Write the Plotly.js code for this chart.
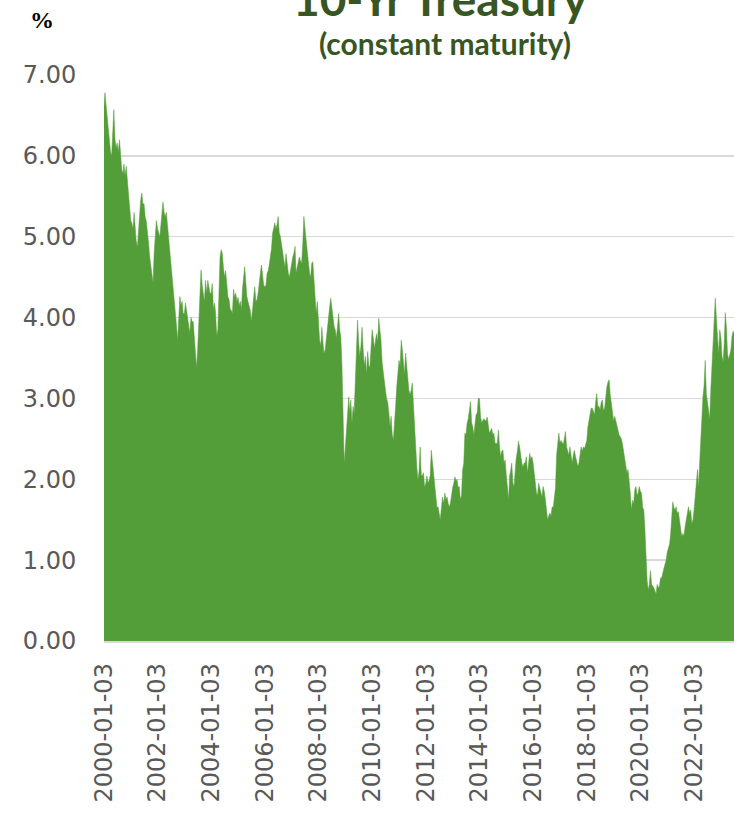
<!DOCTYPE html>
<html>
<head>
<meta charset="utf-8">
<script src="https://cdn.plot.ly/plotly-3.0.1.min.js"></script>
<style>
  html, body { margin: 0; padding: 0; background: #ffffff; }
  #chart { width: 734px; height: 813px; }
</style>
</head>
<body>
<div id="chart"></div>
<script>
// 10-Yr Treasury constant maturity yield (%), two readings per month (1st and 16th)
const y2000 = [6.58, 6.78, 6.62, 6.45, 6.30, 6.20, 6.05, 6.00, 6.35, 6.57, 6.20, 6.10, 6.16, 6.05, 6.20, 5.95, 5.83, 5.78, 5.90, 5.75, 5.87, 5.70, 5.55, 5.30];
const y2001 = [5.20, 5.17, 5.10, 5.30, 5.05, 4.95, 4.87, 5.05, 5.33, 5.45, 5.54, 5.40, 5.41, 5.25, 5.19, 5.00, 4.92, 4.75, 4.63, 4.50, 4.43, 4.80, 5.08, 5.20];
const y2002 = [5.10, 5.05, 5.00, 5.15, 5.30, 5.43, 5.30, 5.25, 5.30, 5.15, 5.04, 4.90, 4.75, 4.62, 4.45, 4.30, 4.05, 3.90, 3.72, 4.10, 4.26, 4.15, 4.20, 4.05];
const y2003 = [4.05, 4.18, 4.08, 4.00, 3.90, 3.81, 4.00, 3.95, 3.95, 3.76, 3.55, 3.38, 3.60, 3.93, 4.35, 4.59, 4.40, 4.26, 4.20, 4.46, 4.30, 4.46, 4.34, 4.30];
const y2004 = [4.30, 4.42, 4.10, 4.18, 4.06, 3.78, 3.85, 4.50, 4.75, 4.84, 4.79, 4.62, 4.50, 4.58, 4.40, 4.26, 4.22, 4.10, 4.09, 4.05, 4.35, 4.25, 4.30, 4.20];
const y2005 = [4.25, 4.15, 4.20, 4.10, 4.34, 4.50, 4.63, 4.45, 4.26, 4.20, 4.15, 4.09, 3.95, 4.10, 4.26, 4.38, 4.20, 4.22, 4.30, 4.46, 4.55, 4.65, 4.50, 4.40];
const y2006 = [4.38, 4.40, 4.55, 4.58, 4.65, 4.75, 4.85, 5.04, 5.10, 5.17, 5.10, 5.15, 5.25, 5.05, 5.00, 4.90, 4.80, 4.75, 4.62, 4.79, 4.65, 4.55, 4.50, 4.60];
const y2007 = [4.71, 4.75, 4.80, 4.88, 4.55, 4.62, 4.65, 4.75, 4.70, 4.67, 4.90, 5.25, 5.10, 4.96, 4.80, 4.62, 4.55, 4.50, 4.67, 4.69, 4.45, 4.13, 4.05, 4.20];
const y2008 = [3.95, 3.72, 3.65, 3.88, 3.70, 3.56, 3.60, 3.75, 3.88, 3.95, 4.13, 4.24, 4.13, 4.00, 3.89, 3.85, 3.75, 3.89, 4.05, 3.85, 3.75, 3.39, 2.70, 2.20];
const y2009 = [2.40, 2.65, 2.85, 3.02, 2.82, 2.98, 2.70, 2.90, 2.82, 3.19, 3.50, 3.97, 3.70, 3.52, 3.65, 3.88, 3.59, 3.40, 3.52, 3.30, 3.58, 3.40, 3.39, 3.60];
const y2010 = [3.85, 3.75, 3.62, 3.72, 3.80, 3.70, 3.99, 3.85, 3.72, 3.45, 3.35, 3.20, 3.10, 3.00, 2.95, 2.82, 2.65, 2.78, 2.55, 2.49, 2.78, 2.90, 3.14, 3.35];
const y2011 = [3.47, 3.40, 3.72, 3.60, 3.43, 3.30, 3.56, 3.40, 3.23, 3.10, 3.05, 3.10, 3.19, 2.95, 2.60, 2.30, 2.15, 1.99, 2.10, 2.40, 2.04, 2.05, 2.08, 1.90];
const y2012 = [1.95, 2.04, 1.95, 1.99, 2.05, 2.36, 2.20, 2.08, 1.90, 1.83, 1.65, 1.66, 1.55, 1.50, 1.65, 1.78, 1.70, 1.83, 1.75, 1.78, 1.70, 1.66, 1.70, 1.83];
const y2013 = [1.90, 1.95, 2.03, 1.98, 2.00, 1.90, 1.91, 1.75, 1.80, 2.11, 2.20, 2.57, 2.55, 2.69, 2.75, 2.85, 2.96, 2.70, 2.65, 2.55, 2.73, 2.80, 2.82, 3.00];
const y2014 = [3.00, 2.77, 2.70, 2.73, 2.75, 2.73, 2.72, 2.77, 2.62, 2.57, 2.60, 2.63, 2.55, 2.57, 2.45, 2.44, 2.45, 2.61, 2.40, 2.28, 2.35, 2.36, 2.20, 2.24];
const y2015 = [2.05, 1.87, 1.75, 2.05, 2.10, 2.20, 1.95, 1.91, 2.10, 2.26, 2.35, 2.47, 2.40, 2.28, 2.20, 2.15, 2.20, 2.20, 2.28, 2.08, 2.20, 2.32, 2.25, 2.28];
const y2016 = [2.20, 2.04, 1.95, 1.83, 1.80, 1.95, 1.90, 1.83, 1.78, 1.91, 1.85, 1.75, 1.60, 1.50, 1.55, 1.58, 1.55, 1.66, 1.65, 1.79, 1.90, 2.30, 2.45, 2.57];
const y2017 = [2.45, 2.48, 2.45, 2.44, 2.50, 2.59, 2.40, 2.36, 2.30, 2.40, 2.25, 2.20, 2.30, 2.36, 2.28, 2.20, 2.16, 2.20, 2.32, 2.40, 2.35, 2.40, 2.38, 2.44];
const y2018 = [2.48, 2.65, 2.75, 2.86, 2.88, 2.88, 2.82, 2.80, 2.95, 3.06, 2.90, 2.90, 2.86, 2.95, 2.98, 2.85, 2.88, 3.05, 3.14, 3.20, 3.23, 3.05, 2.94, 2.80];
const y2019 = [2.72, 2.78, 2.70, 2.65, 2.61, 2.55, 2.53, 2.50, 2.44, 2.35, 2.20, 2.16, 2.08, 2.12, 2.00, 1.83, 1.62, 1.74, 1.70, 1.87, 1.91, 1.80, 1.83, 1.91];
const y2020 = [1.85, 1.83, 1.65, 1.62, 1.40, 0.97, 0.75, 0.63, 0.70, 0.87, 0.70, 0.68, 0.66, 0.62, 0.58, 0.70, 0.66, 0.68, 0.78, 0.78, 0.87, 0.90, 0.95, 1.00];
const y2021 = [1.10, 1.17, 1.20, 1.33, 1.58, 1.72, 1.65, 1.62, 1.66, 1.58, 1.60, 1.50, 1.35, 1.29, 1.33, 1.30, 1.42, 1.50, 1.62, 1.66, 1.58, 1.62, 1.45, 1.50];
const y2022 = [1.63, 1.80, 1.99, 2.12, 1.90, 2.20, 2.49, 2.90, 3.02, 3.15, 3.47, 3.06, 2.95, 2.82, 2.75, 3.10, 3.45, 3.64, 4.02, 4.24, 3.98, 3.73, 3.55, 3.85];
const y2023 = [3.75, 3.52, 3.45, 3.70, 4.06, 3.89, 3.55, 3.48, 3.55, 3.60, 3.77, 3.83, 3.80];

const yearSeries = [y2000, y2001, y2002, y2003, y2004, y2005, y2006, y2007, y2008, y2009, y2010, y2011,
                    y2012, y2013, y2014, y2015, y2016, y2017, y2018, y2019, y2020, y2021, y2022, y2023];
const firstYear = 2000;

const tickLabels = ["2000-01-03", "2002-01-03", "2004-01-03", "2006-01-03", "2008-01-03", "2010-01-03",
                    "2012-01-03", "2014-01-03", "2016-01-03", "2018-01-03", "2020-01-03", "2022-01-03"];
const yTicks = [0, 1, 2, 3, 4, 5, 6, 7];

// build dates (1st and 16th of each month) for the readings
const dates = [], values = [];
yearSeries.forEach((arr, yi) => {
  const yr = firstYear + yi;
  arr.forEach((v, k) => {
    const m = Math.floor(k / 2) + 1;
    const d = (k % 2 === 0) ? "01" : "16";
    dates.push(yr + "-" + String(m).padStart(2, "0") + "-" + d);
    values.push(v);
  });
});

const trace = {
  type: "scatter",
  mode: "lines",
  x: dates,
  y: values,
  fill: "tozeroy",
  fillcolor: "#549e39",
  line: { color: "#549e39", width: 0.5 },
  hoverinfo: "skip"
};

const grey = "#595959";
const layout = {
  width: 734,
  height: 813,
  margin: { l: 104, r: 0, t: 75, b: 172 },
  paper_bgcolor: "#ffffff",
  plot_bgcolor: "#ffffff",
  showlegend: false,
  xaxis: {
    type: "date",
    range: ["2000-01-03", "2023-06-28"],
    tickmode: "array",
    tickvals: tickLabels,
    ticktext: tickLabels,
    tickangle: -90,
    ticks: "outside",
    ticklen: 11,
    tickcolor: "rgba(0,0,0,0)",
    tickfont: { family: "DejaVu Sans", size: 24, color: grey },
    showgrid: false,
    showline: true,
    linecolor: "#d9d9d9",
    linewidth: 1.5,
    zeroline: false
  },
  yaxis: {
    range: [0, 7],
    tickmode: "array",
    tickvals: yTicks,
    ticktext: yTicks.map(v => v.toFixed(2)),
    ticks: "outside",
    ticklen: 22,
    tickcolor: "rgba(0,0,0,0)",
    tickfont: { family: "DejaVu Sans", size: 24, color: grey },
    showgrid: true,
    gridcolor: "#d9d9d9",
    gridwidth: 1.5,
    zeroline: false,
    showline: false
  },
  annotations: [
    {
      text: "<b>10-Yr Treasury</b>",
      xref: "paper", yref: "paper",
      x: (440 - 104) / 630, y: (641 + 1) / 566,
      xanchor: "center", yanchor: "middle",
      showarrow: false,
      font: { family: "Lato", size: 46, color: "#375623" }
    },
    {
      text: "<b>(constant maturity)</b>",
      xref: "paper", yref: "paper",
      x: (445 - 104) / 630, y: (641 - 43) / 566,
      xanchor: "center", yanchor: "middle",
      showarrow: false,
      font: { family: "Lato", size: 30, color: "#375623" }
    },
    {
      text: "<b>%</b>",
      xref: "paper", yref: "paper",
      x: (42 - 104) / 630, y: (641 - 20) / 566,
      xanchor: "center", yanchor: "middle",
      showarrow: false,
      font: { family: "Liberation Serif", size: 24, color: "#000000" }
    }
  ]
};

Plotly.newPlot("chart", [trace], layout, { displayModeBar: false, staticPlot: true });
</script>
</body>
</html>
